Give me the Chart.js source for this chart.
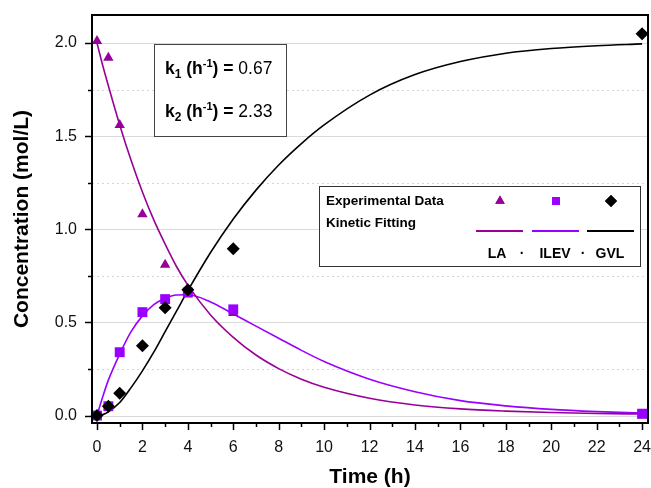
<!DOCTYPE html>
<html>
<head>
<meta charset="utf-8">
<script src="https://cdn.jsdelivr.net/npm/chart.js@4.4.0/dist/chart.umd.min.js"></script>
<style>
  html, body { margin: 0; padding: 0; background: #fff; overflow: hidden; }
  canvas { display: block; }
</style>
</head>
<body>
<canvas id="kinChart" width="651" height="488"></canvas>
<script>
// experimental points
const timeExp = [0, 0.5, 1, 2, 3, 4, 6, 24];
const laExp = [2.01, 1.92, 1.56, 1.08, 0.81, 0.67, 0.55, 0.0];
const ilevExp = [0, 0.05, 0.34, 0.555, 0.625, 0.66, 0.57, 0.01];
const gvlExp = [0, 0.05, 0.12, 0.375, 0.578, 0.675, 0.895, 2.05];

// kinetic fitting curves
const timeFit = [0, 0.25, 0.5, 1, 1.5, 2, 2.5, 3, 3.5, 4, 5, 6, 7, 8, 9, 10, 12, 14, 16, 18, 20, 22, 24];
const laFit = [2.0, 1.88, 1.77, 1.56, 1.37, 1.2, 1.05, 0.92, 0.80, 0.70, 0.54, 0.42, 0.325, 0.252, 0.195, 0.152, 0.093, 0.057, 0.036, 0.024, 0.016, 0.011, 0.008];
const ilevFit = [0, 0.10, 0.19, 0.33, 0.45, 0.535, 0.595, 0.63, 0.647, 0.648, 0.61, 0.545, 0.48, 0.415, 0.35, 0.29, 0.195, 0.128, 0.08, 0.052, 0.033, 0.021, 0.013];
const gvlFit = [0, 0.005, 0.02, 0.07, 0.15, 0.24, 0.34, 0.45, 0.56, 0.67, 0.875, 1.055, 1.21, 1.345, 1.46, 1.56, 1.72, 1.83, 1.90, 1.945, 1.97, 1.985, 1.995];

const xTicks = [0, 1, 2, 3, 4, 5, 6, 7, 8, 9, 10, 11, 12, 13, 14, 15, 16, 17, 18, 19, 20, 21, 22, 23, 24];
const yTicks = [0, 0.25, 0.5, 0.75, 1.0, 1.25, 1.5, 1.75, 2.0];
const kLabels = [['1', '0.67'], ['2', '2.33']];
const species = ['LA', 'ILEV', 'GVL'];

const FONT = 'Arial, "Liberation Sans", sans-serif';
const C_LA = '#990099';
const C_ILEV = '#9900ff';
const C_GVL = '#000000';

function pts(xs, ys) {
  return xs.map(function (x, i) { return { x: x, y: ys[i] }; });
}

function isMajor(v) {
  return Math.abs(v * 2 - Math.round(v * 2)) < 1e-6;
}

function fitSet(label, ys, color) {
  return {
    label: label, data: pts(timeFit, ys), type: 'line',
    borderColor: color, borderWidth: 1.6, pointRadius: 0,
    cubicInterpolationMode: 'monotone', fill: false, order: 10
  };
}

function expSet(label, ys, color, style, r, order) {
  return {
    label: label, data: pts(timeExp, ys), type: 'scatter',
    backgroundColor: color, borderColor: color, borderWidth: 0,
    pointStyle: style, pointRadius: r, clip: false, order: order
  };
}

const framePlugin = {
  id: 'frame',
  beforeDatasetsDraw(chart) {
    const ctx = chart.ctx, a = chart.chartArea, ys = chart.scales.y;
    ctx.save();
    yTicks.forEach(function (v) {
      const py = Math.round(ys.getPixelForValue(v)) + 0.5;
      const major = isMajor(v);
      ctx.strokeStyle = major ? '#dadada' : '#d6d6d6';
      ctx.lineWidth = 1;
      ctx.setLineDash(major ? [] : [2, 3]);
      ctx.beginPath();
      ctx.moveTo(a.left, py);
      ctx.lineTo(a.right, py);
      ctx.stroke();
    });
    ctx.restore();
  },
  afterDraw(chart) {
    const ctx = chart.ctx, a = chart.chartArea, xs = chart.scales.x, ys = chart.scales.y;
    ctx.save();
    ctx.strokeStyle = '#000';
    ctx.lineWidth = 2;
    ctx.strokeRect(a.left, a.top, a.right - a.left, a.bottom - a.top);

    // tick marks
    ctx.lineWidth = 1.5;
    xTicks.forEach(function (v) {
      const px = Math.round(xs.getPixelForValue(v)) + 0.5;
      ctx.beginPath();
      ctx.moveTo(px, a.bottom);
      ctx.lineTo(px, a.bottom + (v % 2 === 0 ? 7 : 4));
      ctx.stroke();
    });
    yTicks.forEach(function (v) {
      const py = Math.round(ys.getPixelForValue(v)) + 0.5;
      ctx.beginPath();
      ctx.moveTo(a.left, py);
      ctx.lineTo(a.left - (isMajor(v) ? 7 : 4), py);
      ctx.stroke();
    });

    // rate constant box
    ctx.fillStyle = '#fff';
    ctx.fillRect(154, 44, 132, 92);
    ctx.strokeStyle = '#444';
    ctx.lineWidth = 1;
    ctx.strokeRect(154.5, 44.5, 132, 92);
    ctx.fillStyle = '#000';
    ctx.textBaseline = 'alphabetic';
    kLabels.forEach(function (k, i) {
      const by = 74 + i * 43;
      let x = 165;
      function put(txt, font, dy) {
        ctx.font = font;
        ctx.fillText(txt, x, by + dy);
        x += ctx.measureText(txt).width;
      }
      put('k', 'bold 17.5px ' + FONT, 0);
      put(k[0], 'bold 12px ' + FONT, 4);
      put(' (h', 'bold 17.5px ' + FONT, 0);
      put('-1', 'bold 11px ' + FONT, -7);
      put(') = ', 'bold 17.5px ' + FONT, 0);
      put(k[1], '17.5px ' + FONT, 0);
    });

    // legend box
    ctx.fillStyle = '#fff';
    ctx.fillRect(319, 186, 321, 80);
    ctx.strokeStyle = '#333';
    ctx.strokeRect(319.5, 186.5, 321, 80);
    ctx.fillStyle = '#000';
    ctx.font = 'bold 13.5px ' + FONT;
    ctx.textAlign = 'left';
    ctx.textBaseline = 'middle';
    ctx.fillText('Experimental Data', 326, 201);
    ctx.fillText('Kinetic Fitting', 326, 223);

    const cols = [500, 556, 611];
    const colors = [C_LA, C_ILEV, C_GVL];
    const styles = ['triangle', 'rect', 'rectRot'];
    const radii = [5.5, 5.5, 6];
    cols.forEach(function (cx, i) {
      ctx.fillStyle = colors[i];
      ctx.strokeStyle = colors[i];
      Chart.helpers.drawPoint(ctx, { pointStyle: styles[i], radius: radii[i], borderWidth: 0, rotation: 0 }, cx, 201);
      ctx.fill();
      ctx.lineWidth = 1.8;
      ctx.beginPath();
      ctx.moveTo(cx - 24, 231);
      ctx.lineTo(cx + 23, 231);
      ctx.stroke();
    });
    ctx.fillStyle = '#000';
    ctx.font = 'bold 14px ' + FONT;
    ctx.textAlign = 'center';
    ctx.fillText(species[0], 497, 254);
    ctx.fillText('·', 522, 254);
    ctx.fillText(species[1], 555, 254);
    ctx.fillText('·', 583, 254);
    ctx.fillText(species[2], 610, 254);
    ctx.restore();
  }
};

new Chart(document.getElementById('kinChart'), {
  data: {
    datasets: [
      fitSet('LA fit', laFit, C_LA),
      fitSet('ILEV fit', ilevFit, C_ILEV),
      fitSet('GVL fit', gvlFit, C_GVL),
      expSet('LA', laExp, C_LA, 'triangle', 6, 3),
      expSet('ILEV', ilevExp, C_ILEV, 'rect', 7, 2),
      expSet('GVL', gvlExp, C_GVL, 'rectRot', 6.5, 1)
    ]
  },
  options: {
    responsive: false,
    animation: false,
    devicePixelRatio: 1,
    layout: { autoPadding: false, padding: { left: 0, right: 3, top: 15, bottom: 0 } },
    plugins: { legend: { display: false }, tooltip: { enabled: false } },
    scales: {
      x: {
        type: 'linear', min: -0.22, max: 24.26,
        afterBuildTicks: function (s) { s.ticks = xTicks.map(function (v) { return { value: v }; }); },
        afterFit: function (s) { s.height = 65; s.paddingLeft = 0; s.paddingRight = 0; },
        grid: { display: false, drawTicks: false },
        border: { display: false },
        ticks: {
          color: '#111', padding: 15, maxRotation: 0, autoSkip: false,
          font: { family: FONT, size: 16 },
          callback: function (v) { return v % 2 === 0 ? String(v) : ''; }
        },
        title: { display: true, text: 'Time (h)', color: '#000', padding: { top: 0, bottom: 0.5 }, font: { family: FONT, size: 21, weight: 'bold', lineHeight: 1 } }
      },
      y: {
        type: 'linear', min: -0.04, max: 2.15,
        afterBuildTicks: function (s) { s.ticks = yTicks.map(function (v) { return { value: v }; }); },
        afterFit: function (s) { s.width = 92; s.paddingTop = 0; s.paddingBottom = 0; },
        grid: { display: false, drawTicks: false },
        border: { display: false },
        ticks: {
          color: '#111', padding: 15, autoSkip: false,
          font: { family: FONT, size: 16 },
          callback: function (v) { return isMajor(v) ? v.toFixed(1) : ''; }
        },
        title: { display: true, text: 'Concentration (mol/L)', color: '#000', padding: { top: 11.5, bottom: 0 }, font: { family: FONT, size: 21, weight: 'bold', lineHeight: 1 } }
      }
    }
  },
  plugins: [framePlugin]
});
</script>
</body>
</html>
